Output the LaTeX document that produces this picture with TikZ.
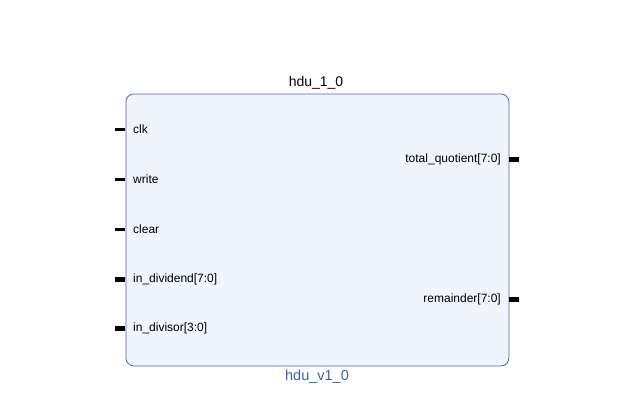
\documentclass[tikz,border=0pt]{standalone}
\usepackage{fontspec}
\setmainfont{Liberation Sans}
\definecolor{boxfill}{HTML}{EEF5FD}
\definecolor{boxline}{HTML}{4068B8}
\definecolor{lblblue}{HTML}{3B5FAE}
\begin{document}
\begin{tikzpicture}[x=1pt,y=-1pt,
  portlbl/.style={font=\fontsize{12}{14}\selectfont, inner sep=0pt},
  pinsingle/.style={line width=3pt},
  pinbus/.style={line width=5pt}]
\useasboundingbox (0,0) rectangle (631,405);
\node[draw=boxline, fill=boxfill, line width=0.8pt, rounded corners=8pt,
  minimum width=383pt, minimum height=272pt, inner sep=0pt, anchor=north west] (blk) at (125.5,93.5) {};
\node[font=\fontsize{14}{16}\selectfont, anchor=base] (title) at (316,86) {hdu\_1\_0};
\node[font=\fontsize{14.5}{16}\selectfont, text=lblblue, anchor=base] (sub) at (317,380) {hdu\_v1\_0};
% left ports
\foreach \n/\t/\y/\s in {clk/clk/129/pinsingle, write/write/179/pinsingle, clear/clear/229/pinsingle,
  div/in\_dividend[7:0]/279/pinbus, dvs/in\_divisor[3:0]/328/pinbus}{
  \coordinate (p\n) at (115,\y);
  \coordinate (q\n) at (125,\y);
  \draw[\s] (p\n) -- (q\n);
  \node[portlbl, anchor=west] (l\n) at (133,\y) {\t};
}
% right ports
\foreach \n/\t/\y in {tq/total\_quotient[7:0]/159, rem/remainder[7:0]/299}{
  \coordinate (p\n) at (509,\y);
  \coordinate (q\n) at (519,\y);
  \draw[pinbus] (p\n) -- (q\n);
  \node[portlbl, anchor=east] (l\n) at (501,\y) {\t};
}
\end{tikzpicture}
\end{document}
